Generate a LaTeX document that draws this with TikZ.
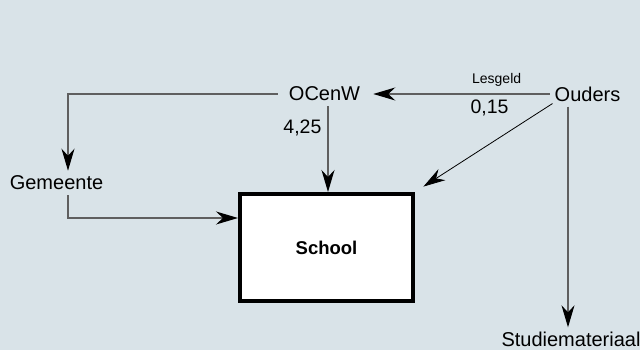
\documentclass[tikz,border=0pt]{standalone}
\usepackage{fontspec}
\setmainfont{Liberation Sans}
\definecolor{bgblue}{RGB}{217,227,232}
\definecolor{linegray}{RGB}{95,95,95}
\usetikzlibrary{arrows.meta,positioning,calc}
\tikzset{
  actor/.style={inner sep=5pt, font=\fontsize{20}{23}\selectfont},
  schoolbox/.style={draw=black, fill=white, line width=4pt,
                    minimum width=173pt, minimum height=107pt,
                    font=\bfseries\fontsize{18.5}{22}\selectfont},
  flow/.style={draw=linegray, line width=1.2pt,
               -{Stealth[length=22pt,width=13pt,inset=7pt,color=black]}},
  thinflow/.style={draw=black, line width=0.8pt,
                   -{Stealth[length=22pt,width=13pt,inset=7pt,color=black]}},
  amount/.style={font=\fontsize{19.5}{22}\selectfont, inner sep=2pt},
  smalllabel/.style={font=\fontsize{14}{16}\selectfont, inner sep=2pt},
}

\begin{document}
\begin{tikzpicture}[x=1pt,y=1pt]
  % background
  \fill[bgblue] (0,0) rectangle (640,350);
  \useasboundingbox (0,0) rectangle (640,350);

  % actors
  \node[actor] (ocenw)  at (324.5,256) {OCenW};
  \node[actor] (ouders) at (587.5,256) {Ouders};
  \node[actor] (gemeente) at (56.5,167) {Gemeente};
  \node[actor, anchor=base] (studie) at (571,3) {Studiemateriaal};
  \node[schoolbox] (school) at (326.5,102.5) {School};

  % money flows
  \draw[flow] ([xshift=-6pt]ocenw.west) -| ([xshift=11.5pt]gemeente.north);
  \draw[flow] ([xshift=11.5pt]gemeente.south) |- ([yshift=29.5pt]school.west);
  \draw[flow] ([xshift=3.5pt]ocenw.south) -- ([xshift=3.5pt]ocenw.south |- school.north)
    node[amount, pos=0.25, left=4pt] {4,25};
  \draw[flow] (ouders.west) -- ([xshift=8pt]ocenw.east)
    node[smalllabel, pos=0.3, above=5pt] {Lesgeld}
    node[amount, pos=0.34, below=3pt] {0,15};
  \draw[thinflow, shorten >=10pt] ([shift={(3pt,3pt)}]ouders.south west) -- (school.north east);
  \draw[flow] ([xshift=-19.5pt]ouders.south) -- ([xshift=-19.5pt]ouders.south |- studie.north);
\end{tikzpicture}
\end{document}
